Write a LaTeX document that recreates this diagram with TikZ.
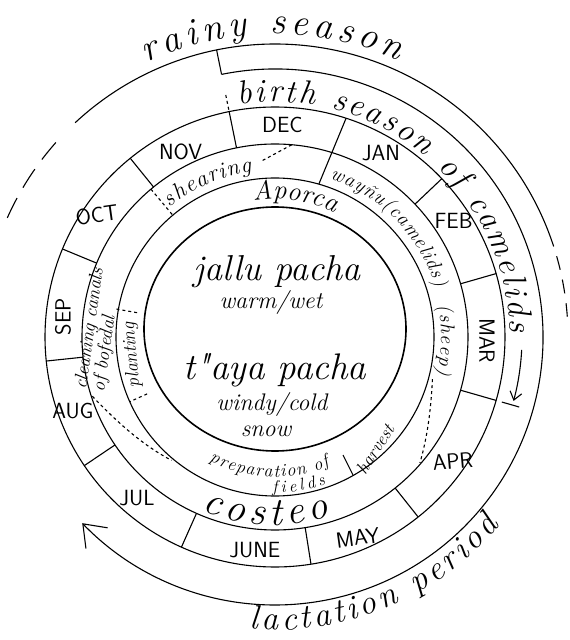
\documentclass[tikz,border=0pt]{standalone}
\usepackage{tikz}
\usetikzlibrary{arrows.meta}
\usetikzlibrary{decorations.text}

\newcommand{\hand}[1]{\itshape\fontsize{#1}{#1}\selectfont}

\begin{document}
\begin{tikzpicture}[x=1pt, y=1pt, line width=1.1pt,
  month/.style={font=\sffamily\fontsize{22}{22}\selectfont},
  along/.style={decorate, decoration={text along path, text align={fit to path}, text={#1}}}]
\useasboundingbox (-275,-303) rectangle (295,337);

% rings
\draw[line width=1.6pt] (0,8) ellipse [x radius=131, y radius=122];
\draw (0,0) circle [radius=159];
\draw (0,0) circle [radius=193];
\draw (0,0) circle [radius=230];

% month borders
\draw (101.5:193) -- (101.5:230);
\draw (74:159) -- (72:230);
\draw (43.5:193) -- (43.5:230);
\draw (16:193) -- (16:230);
\draw (-16:193) -- (-16:230);
\draw (-51.5:193) -- (-51.5:230);
\draw (-81:193) -- (-81:230);
\draw (-114:193) -- (-114:230);
\draw (-146:193) -- (-146:230);
\draw (186:193) -- (186:230);
\draw (157.5:193) -- (157.5:230);
\draw (129:193) -- (129:230);

\node[month] (dec) at (88:212) {DEC};
\node[month] (nov) at (117:208) {NOV};
\node[month, rotate=8] (oct) at (145.6:216) {OCT};
\node[month, rotate=90] (sep) at (174.6:213) {SEP};
\node[month] (aug) at (200:215) {AUG};
\node[month] (jul) at (-130.6:212) {JUL};
\node[month] (june) at (-95.4:214) {JUNE};
\node[month, rotate=8] (may) at (-67.6:217) {MAY};
\node[month, rotate=5] (apr) at (-35:217) {APR};
\node[month, rotate=-90] (mar) at (-1:212) {MAR};
\node[month] (feb) at (33:213) {FEB};
\node[month] (jan) at (60:212) {JAN};

% rainy season
\draw (133:293) arc[start angle=133, end angle=18, radius=293];
\draw[dash pattern=on 22pt off 12pt] (156:293) arc[start angle=156, end angle=138, radius=293];
\draw[dash pattern=on 14pt off 10pt] (16:293) arc[start angle=16, end angle=4, radius=293];
\path[along={|\hand{38}|rainy season}] (115:303) arc[start angle=115, end angle=66, radius=303];

% birth season and lactation
\draw[-{Straight Barb[length=20pt, width=30pt]}] (101.5:268) arc[start angle=101.5, end angle=-136, radius=268];
\draw (101.5:293) -- (101.5:268);
\draw[dashed] (101.5:247) -- (101.5:230);
\path[along={|\hand{33}|birth season of camelids}] (99:235) arc[start angle=99, end angle=1, radius=235];
\draw[-{Straight Barb[length=8pt, width=12pt]}] (-3:247) arc[start angle=-3, end angle=-15, radius=247];
\draw (-16:236) -- (-16:254);
\path[along={|\hand{34}|lactation period}] (-95:293) arc[start angle=-95, end angle=-40, radius=293];

% outer band of work
\path[along={|\hand{23}|shearing}] (129:167) arc[start angle=129, end angle=98, radius=167];
\draw[dashed] (94:177) -- (85:193);
\draw[dashed] (130:193) -- (130:159);
\path[along={|\hand{20}|wayñu(camelids)}] (71:168) arc[start angle=71, end angle=17, radius=168];
\path[along={|\hand{20}|(sheep)}] (11:166) arc[start angle=11, end angle=-13, radius=166];
\draw[dashed] (-15:163) .. controls (-25:172) and (-33:182) .. (-41:192);
\path[along={|\hand{40}|costeo}] (-113:188) arc[start angle=-113, end angle=-73, radius=188];
\draw[dashed] (198:192) .. controls (210:178) and (220:170) .. (230:161);
\node[rotate=82, align=left, font={\itshape\fontsize{19}{14}\selectfont}] (canal) at (-176,7) {cleaning canals\\of bofedal};

% inner band of work
\path[along={|\hand{27}|Aporca}] (99:138) arc[start angle=99, end angle=65, radius=138];
\node[rotate=95, font=\hand{19}] (plant) at (-143,-18) {planting};
\draw[dashed] (170:140) -- (170:162);
\draw[dashed] (204:140) -- (204:159);
\path[along={|\hand{18}|preparation of}] (-118:140) arc[start angle=-118, end angle=-67, radius=140];
\path[along={|\hand{17}|fields}] (-91:156) arc[start angle=-91, end angle=-71, radius=156];
\node[rotate=57, font=\hand{18}] (harv) at (100,-112) {harvest};
\draw (68,-118) -- (78,-138);

% seasons in the middle
\node[font=\hand{36}] (jallu) at (2,65) {jallu pacha};
\node[font=\hand{24}] (warm) at (-4,35) {warm/wet};
\node[font=\hand{37}] (taya) at (0,-33) {t\textquotedbl aya pacha};
\node[font=\hand{24}] (windy) at (-3,-67) {windy/cold};
\node[font=\hand{24}] (snow) at (-9,-94) {snow};
\end{tikzpicture}
\end{document}
